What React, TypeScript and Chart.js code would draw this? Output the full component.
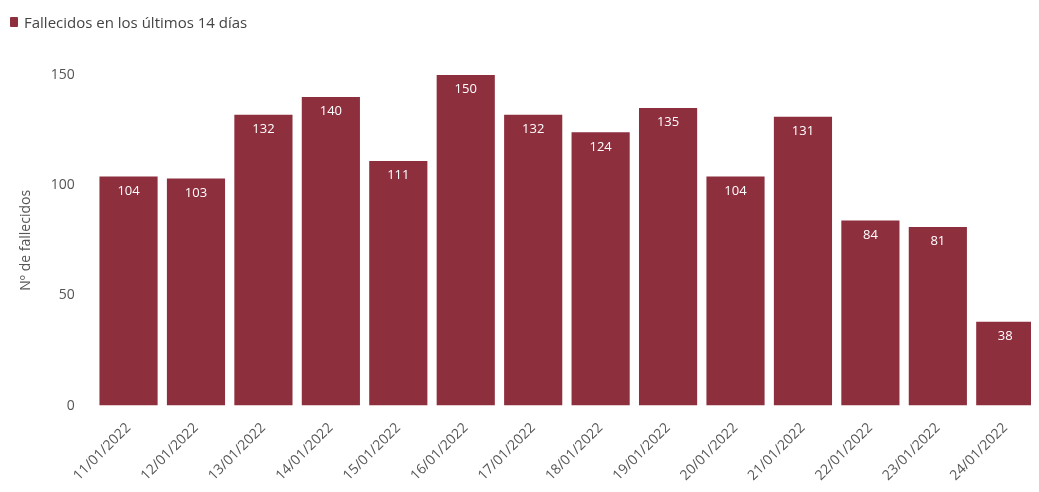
import { useEffect, useRef } from 'react';
import { Chart, registerables } from 'chart.js';

Chart.register(...registerables);

const fechas = [
  '11/01/2022', '12/01/2022', '13/01/2022', '14/01/2022', '15/01/2022', '16/01/2022', '17/01/2022',
  '18/01/2022', '19/01/2022', '20/01/2022', '21/01/2022', '22/01/2022', '23/01/2022', '24/01/2022'
];
const fallecidos = [104, 103, 132, 140, 111, 150, 132, 124, 135, 104, 131, 84, 81, 38];
const yTicks = [0, 50, 100, 150];

const BAR = '#8e2f3e';
const FONT = "'Open Sans', 'Noto Sans', sans-serif";

// draws the value inside the top of each bar
const barValues = {
  id: 'barValues',
  afterDatasetsDraw(chart: Chart) {
    const ctx = chart.ctx;
    const meta = chart.getDatasetMeta(0);
    ctx.save();
    ctx.fillStyle = '#ffffff';
    ctx.font = `13px ${FONT}`;
    ctx.textAlign = 'center';
    ctx.textBaseline = 'top';
    meta.data.forEach((bar: any, i) => {
      ctx.fillText(String(fallecidos[i]), bar.x, bar.y + 8);
    });
    ctx.restore();
  }
};

export default function App() {
  const canvasRef = useRef<HTMLCanvasElement | null>(null);

  useEffect(() => {
    if (!canvasRef.current) return;
    const chart = new Chart(canvasRef.current, {
      type: 'bar',
      data: {
        labels: fechas,
        datasets: [{ label: 'Fallecidos en los últimos 14 días', data: fallecidos, backgroundColor: BAR }]
      },
      options: {
        animation: false,
        responsive: true,
        maintainAspectRatio: false,
        layout: { padding: { top: 75, left: 14, right: 0, bottom: 2 } },
        plugins: { legend: { display: false }, tooltip: { enabled: false } },
        scales: {
          x: {
            grid: { display: false },
            border: { display: false },
            ticks: { color: '#555', font: { family: FONT, size: 14 }, maxRotation: 45, minRotation: 45, padding: 6 }
          },
          y: {
            min: 0,
            max: 150,
            afterBuildTicks: (axis: any) => { axis.ticks = yTicks.map(v => ({ value: v })); },
            grid: { display: false },
            border: { display: false },
            ticks: { color: '#555', font: { family: FONT, size: 14 }, padding: 12 },
            title: { display: true, text: 'Nº de fallecidos', color: '#555', font: { family: FONT, size: 14 } }
          }
        },
        datasets: { bar: { categoryPercentage: 0.88, barPercentage: 0.98 } }
      },
      plugins: [barValues]
    });
    return () => chart.destroy();
  }, []);

  return (
    <div style={{ position: 'relative', width: 1039, height: 492, margin: -8, background: '#fff' }}>
      <div style={{ position: 'absolute', left: 10, top: 12, fontFamily: FONT, fontSize: 15, color: '#444', display: 'flex', alignItems: 'center' }}>
        <span style={{ width: 8, height: 10, background: BAR, display: 'inline-block', marginRight: 6, borderRadius: 1 }} />
        Fallecidos en los últimos 14 días
      </div>
      <canvas ref={canvasRef} />
    </div>
  );
}
